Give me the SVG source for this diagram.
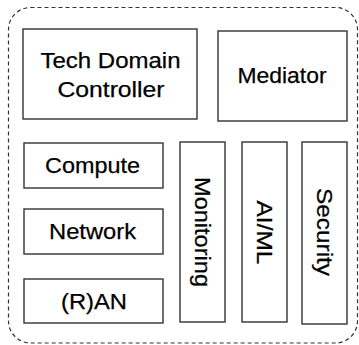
<svg xmlns="http://www.w3.org/2000/svg" width="359" height="345" viewBox="0 0 359 345">
  <style>
    .frame { fill: none; stroke: #333333; stroke-width: 1.2; stroke-dasharray: 4 3; }
    .box { fill: #ffffff; stroke: #333333; stroke-width: 1.4; }
    .label { font-family: "Liberation Sans", Arial, sans-serif; font-size: 22px; fill: #000000; stroke: #000000; stroke-width: 0.25; text-anchor: middle; }
  </style>
  <rect x="0" y="0" width="359" height="345" fill="#ffffff"/>

  <!-- dashed boundary around the whole domain -->
  <rect class="frame" x="8.5" y="7.5" width="349" height="335.5" rx="22" ry="22"/>

  <g id="connectors"></g>

  <g id="tech-domain-controller">
    <rect class="box" x="23" y="29" width="174" height="90"/>
    <text class="label" x="110.5" y="68.3" textLength="140" lengthAdjust="spacingAndGlyphs">Tech Domain</text>
    <text class="label" x="111" y="96.7" textLength="107" lengthAdjust="spacingAndGlyphs">Controller</text>
  </g>

  <g id="mediator">
    <rect class="box" x="218" y="31" width="129" height="90"/>
    <text class="label" x="282" y="83.3" textLength="89" lengthAdjust="spacingAndGlyphs">Mediator</text>
  </g>

  <g id="compute">
    <rect class="box" x="24" y="143" width="139" height="45"/>
    <text class="label" x="92.5" y="173.3" textLength="95" lengthAdjust="spacingAndGlyphs">Compute</text>
  </g>

  <g id="network">
    <rect class="box" x="24" y="209" width="139" height="45"/>
    <text class="label" x="92.5" y="239" textLength="87" lengthAdjust="spacingAndGlyphs">Network</text>
  </g>

  <g id="ran">
    <rect class="box" x="24" y="279" width="139" height="44"/>
    <text class="label" x="94" y="308.5" textLength="66" lengthAdjust="spacingAndGlyphs">(R)AN</text>
  </g>

  <g id="monitoring">
    <rect class="box" x="180" y="142" width="45" height="180"/>
    <text class="label" transform="translate(195,232) rotate(90)" textLength="110" lengthAdjust="spacingAndGlyphs">Monitoring</text>
  </g>

  <g id="ai-ml">
    <rect class="box" x="242" y="142" width="45" height="180"/>
    <text class="label" transform="translate(257,232.5) rotate(90)" textLength="64" lengthAdjust="spacingAndGlyphs">AI/ML</text>
  </g>

  <g id="security">
    <rect class="box" x="302" y="142" width="45" height="182"/>
    <text class="label" transform="translate(317,232) rotate(90)" textLength="88" lengthAdjust="spacingAndGlyphs">Security</text>
  </g>
</svg>
